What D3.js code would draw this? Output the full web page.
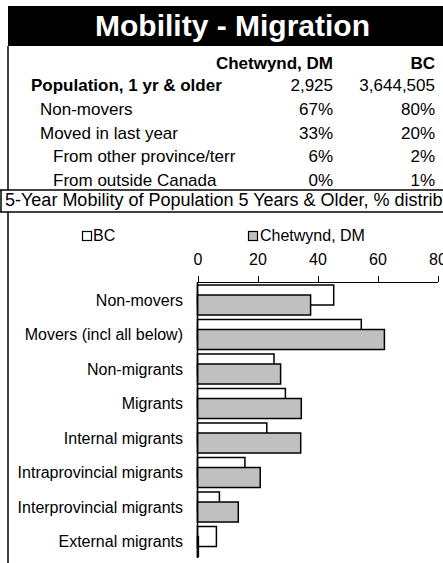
<!DOCTYPE html>
<html>
<head>
<meta charset="utf-8">
<title>Mobility - Migration</title>
<script src="https://d3js.org/d3.v7.min.js"></script>
<style>
body { margin: 0; background: #fff; }
svg { display: block; font-family: "Liberation Sans", Arial, sans-serif; }
.axis path, .axis line { fill: none; stroke: #000; shape-rendering: crispEdges; }
.axis text { font-size: 16px; font-family: "Liberation Sans", Arial, sans-serif; fill: #000; }
</style>
</head>
<body>
<script>
// table values
var tableRows = ["Population, 1 yr & older", "Non-movers", "Moved in last year", "From other province/terr", "From outside Canada"];
var rowLevel = [0, 1, 1, 2, 2];
var chetCol = ["2,925", "67%", "33%", "6%", "0%"];
var bcCol = ["3,644,505", "80%", "20%", "2%", "1%"];
var colHeads = ["Chetwynd, DM", "BC"];

// chart values
var categories = ["Non-movers", "Movers (incl all below)", "Non-migrants", "Migrants",
  "Internal migrants", "Intraprovincial migrants", "Interprovincial migrants", "External migrants"];
var bcVals = [45.4, 54.6, 25.5, 29.3, 23.1, 15.8, 7.3, 6.3];
var chetVals = [37.7, 62.3, 27.7, 34.6, 34.4, 20.9, 13.6, 0.3];
var xTicks = [0, 20, 40, 60, 80];

var W = 443, H = 563;
var svg = d3.select("body").append("svg").attr("width", W).attr("height", H);

// title band
svg.append("rect").attr("x", 8).attr("y", 6).attr("width", W).attr("height", 40).attr("fill", "#000");
svg.append("text").attr("x", 232.5).attr("y", 36).attr("text-anchor", "middle")
  .attr("fill", "#fff").style("font-size", "30px").style("font-weight", "bold")
  .text("Mobility - Migration");

// borders
svg.append("line").attr("x1", 8).attr("x2", 8).attr("y1", 46).attr("y2", 190).attr("stroke", "#000").attr("stroke-width", 1.5);
svg.append("line").attr("x1", 0).attr("x2", W).attr("y1", 190).attr("y2", 190).attr("stroke", "#000").attr("stroke-width", 1.5);
svg.append("line").attr("x1", 1).attr("x2", 1).attr("y1", 190).attr("y2", 212).attr("stroke", "#000").attr("stroke-width", 1.5);
svg.append("line").attr("x1", 0).attr("x2", W).attr("y1", 212).attr("y2", 212).attr("stroke", "#000").attr("stroke-width", 1.5);
svg.append("line").attr("x1", 8).attr("x2", 8).attr("y1", 212).attr("y2", H).attr("stroke", "#000").attr("stroke-width", 1.5);

// table
var colX = [333, 435];
var indentX = [31, 40, 53];
var rowY = function(i) { return 91 + i * 23.75; };
var tbl = svg.append("g").style("font-size", "17px");
tbl.selectAll(".head").data(colHeads).enter().append("text")
  .attr("x", function(d, i) { return colX[i]; }).attr("y", 69)
  .attr("text-anchor", "end").style("font-weight", "bold").text(function(d) { return d; });
tableRows.forEach(function(r, i) {
  var bold = i == 0 ? "bold" : "normal";
  tbl.append("text").attr("x", indentX[rowLevel[i]]).attr("y", rowY(i)).style("font-weight", bold).text(r);
  tbl.append("text").attr("x", colX[0]).attr("y", rowY(i)).attr("text-anchor", "end").text(chetCol[i]);
  tbl.append("text").attr("x", colX[1]).attr("y", rowY(i)).attr("text-anchor", "end").text(bcCol[i]);
});

// chart subtitle
svg.append("text").attr("x", 5).attr("y", 206).style("font-size", "18px")
  .text("5-Year Mobility of Population 5 Years & Older, % distribution");

// legend
var leg = svg.append("g").style("font-size", "16px");
leg.append("rect").attr("x", 82.5).attr("y", 231.5).attr("width", 9).attr("height", 9)
  .attr("fill", "#fff").attr("stroke", "#000").attr("stroke-width", 1.2);
leg.append("text").attr("x", 93).attr("y", 241).text("BC");
leg.append("rect").attr("x", 248.5).attr("y", 231.5).attr("width", 9).attr("height", 9)
  .attr("fill", "#c0c0c0").attr("stroke", "#000").attr("stroke-width", 1.2);
leg.append("text").attr("x", 260).attr("y", 241).text("Chetwynd, DM");

// scales
var x = d3.scaleLinear().domain([0, 80]).range([197.5, 437.5]);
var y = d3.scaleBand().domain(categories).range([282, 558]);
var bw = y.bandwidth();
var barH = bw * 0.58;

var xAxis = d3.axisTop(x).tickValues(xTicks).tickSize(6).tickPadding(11);
svg.append("g").attr("class", "axis").attr("transform", "translate(0,282)").call(xAxis)
  .select(".domain").attr("d", "M" + x(0) + ",0H" + x(80));

// bars: BC first, Chetwynd overlapping
svg.selectAll(".bc").data(bcVals).enter().append("rect").attr("class", "bc")
  .attr("x", x(0)).attr("y", function(d, i) { return y(categories[i]) + bw * 0.087; })
  .attr("width", function(d) { return x(d) - x(0); }).attr("height", barH)
  .attr("fill", "#fff").attr("stroke", "#000").attr("stroke-width", 1.5);
svg.selectAll(".chet").data(chetVals).enter().append("rect").attr("class", "chet")
  .attr("x", x(0)).attr("y", function(d, i) { return y(categories[i]) + bw * 0.377; })
  .attr("width", function(d) { return x(d) - x(0); }).attr("height", barH)
  .attr("fill", "#c0c0c0").attr("stroke", "#000").attr("stroke-width", 1.5);

// category axis
svg.append("line").attr("x1", x(0)).attr("x2", x(0)).attr("y1", 282).attr("y2", 558)
  .attr("stroke", "#000").attr("stroke-width", 1.5);
svg.selectAll(".cat").data(categories).enter().append("text").attr("class", "cat")
  .attr("x", 183).attr("y", function(d) { return y(d) + bw / 2 + 6.5; })
  .attr("text-anchor", "end").style("font-size", "16px").text(function(d) { return d; });
</script>
</body>
</html>
